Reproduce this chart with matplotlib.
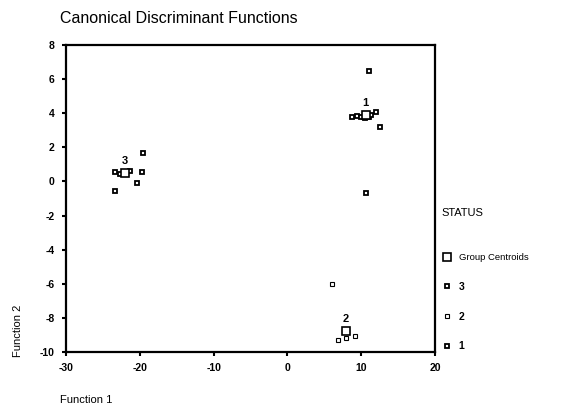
import numpy as np
import matplotlib.pyplot as plt
from matplotlib.lines import Line2D

plt.rcParams['font.family'] = ['Liberation Sans', 'DejaVu Sans']
plt.rcParams['axes.unicode_minus'] = False

# Data
g1_x = [11.1, 12.0, 8.8, 9.4, 10.0, 10.5, 11.0, 11.3, 12.6, 10.6]
g1_y = [6.5, 4.1, 3.8, 3.85, 3.8, 3.7, 3.75, 3.9, 3.2, -0.65]
g2_x = [6.1, 6.9, 8.0, 9.2]
g2_y = [-6.0, -9.3, -9.15, -9.05]
g3_x = [-19.5, -23.4, -22.7, -21.8, -21.3, -19.7, -20.4, -23.4]
g3_y = [1.65, 0.55, 0.45, 0.55, 0.6, 0.55, -0.1, -0.55]
cent_x = [10.6, 7.9, -22.0]
cent_y = [3.9, -8.75, 0.5]
cent_lab = ['1', '2', '3']

xticks = [-30, -20, -10, 0, 10, 20]
yticks = [-10, -8, -6, -4, -2, 0, 2, 4, 6, 8]

fig = plt.figure(figsize=(5.61, 4.16), dpi=100)
ax = fig.add_axes([0.1176, 0.1538, 0.6578, 0.738])

ax.plot(g1_x, g1_y, 's', ms=3.5, mfc='white', mec='black', mew=1.3, ls='none')
ax.plot(g2_x, g2_y, 's', ms=2.5, mfc='white', mec='black', mew=0.8, ls='none')
ax.plot(g3_x, g3_y, 's', ms=3.5, mfc='white', mec='black', mew=1.3, ls='none')
ax.plot(cent_x, cent_y, 's', ms=6, mfc='white', mec='black', mew=1.2, ls='none')
for cx, cy, lab in zip(cent_x, cent_y, cent_lab):
    ax.annotate(lab, (cx, cy), xytext=(0, 5), textcoords='offset points',
                ha='center', va='bottom', fontsize=8, fontweight='bold')

ax.set_xlim(-30, 20)
ax.set_ylim(-10, 8)
ax.set_xticks(xticks)
ax.set_yticks(yticks)
ax.tick_params(direction='out', length=3, width=1.5, labelsize=7.5, pad=5)
for lab in ax.get_xticklabels() + ax.get_yticklabels():
    lab.set_fontweight('bold')
for s in ax.spines.values():
    s.set_linewidth(1.6)

fig.text(0.107, 0.955, 'Canonical Discriminant Functions', fontsize=11.5,
         ha='left', va='center')
fig.text(0.032, 0.205, 'Function 2', rotation=90, fontsize=8,
         ha='center', va='center')
fig.text(0.107, 0.038, 'Function 1', fontsize=8, ha='left', va='center')

handles = [
    Line2D([], [], marker='s', ms=6, mfc='white', mec='black', mew=1.2, ls='none'),
    Line2D([], [], marker='s', ms=3.5, mfc='white', mec='black', mew=1.3, ls='none'),
    Line2D([], [], marker='s', ms=2.5, mfc='white', mec='black', mew=0.8, ls='none'),
    Line2D([], [], marker='s', ms=3.5, mfc='white', mec='black', mew=1.3, ls='none'),
]
leg = ax.legend(handles, ['Group Centroids', '3', '2', '1'], title='STATUS',
                loc='upper left', bbox_to_anchor=(1.0, 0.49), frameon=False,
                fontsize=6.8, title_fontsize=8, labelspacing=2.1,
                handletextpad=0.6, handlelength=1.2, borderaxespad=0.3)
leg._legend_box.align = 'left'
leg._legend_box.sep = 25
for t in leg.get_texts()[1:]:
    t.set_fontsize(7.5)
    t.set_fontweight('bold')

fig.savefig('out.png', dpi=100)
